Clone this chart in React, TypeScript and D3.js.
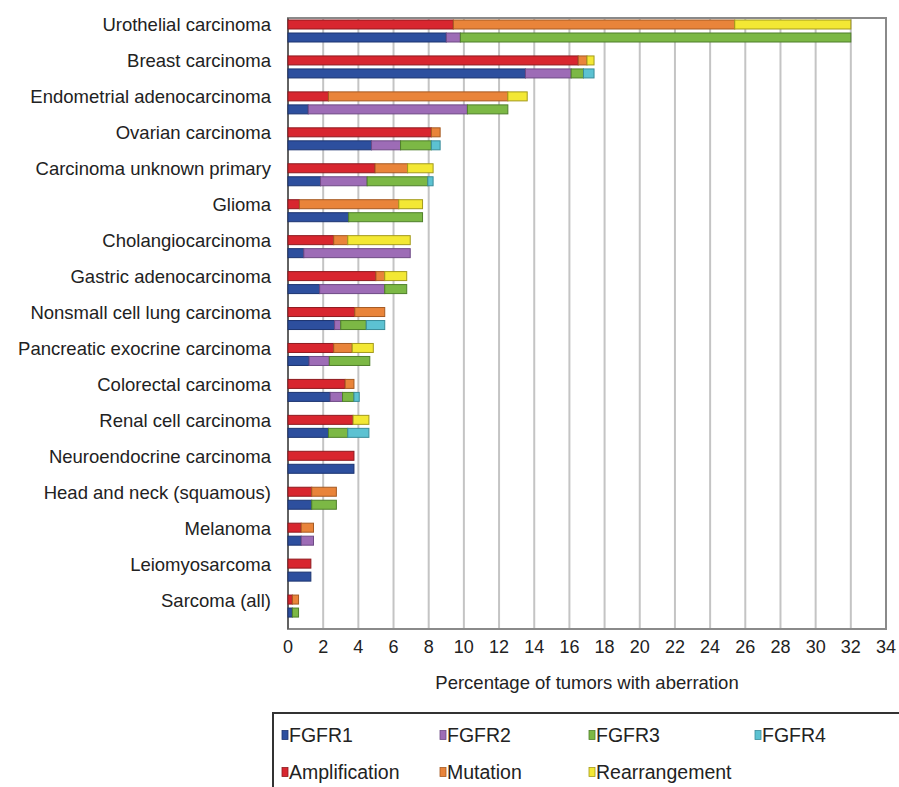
import { useEffect, useRef } from "react";
import * as d3 from "d3";

const categories = [
  "Urothelial carcinoma",
  "Breast carcinoma",
  "Endometrial adenocarcinoma",
  "Ovarian carcinoma",
  "Carcinoma unknown primary",
  "Glioma",
  "Cholangiocarcinoma",
  "Gastric adenocarcinoma",
  "Nonsmall cell lung carcinoma",
  "Pancreatic exocrine carcinoma",
  "Colorectal carcinoma",
  "Renal cell carcinoma",
  "Neuroendocrine carcinoma",
  "Head and neck (squamous)",
  "Melanoma",
  "Leiomyosarcoma",
  "Sarcoma (all)",
];

// aberration type (top bar of each pair)
const amplification = [9.4, 16.5, 2.3, 8.15, 4.95, 0.65, 2.6, 5.0, 3.8, 2.6, 3.25, 3.7, 3.75, 1.35, 0.75, 1.3, 0.25];
const mutation = [16.0, 0.5, 10.2, 0.5, 1.85, 5.65, 0.8, 0.5, 1.7, 1.05, 0.5, 0, 0, 1.4, 0.7, 0, 0.35];
const rearrangement = [6.6, 0.4, 1.1, 0, 1.45, 1.35, 3.55, 1.25, 0, 1.2, 0, 0.9, 0, 0, 0, 0, 0];

// gene (bottom bar of each pair)
const fgfr1 = [9.0, 13.5, 1.15, 4.75, 1.85, 3.45, 0.9, 1.8, 2.65, 1.2, 2.4, 2.3, 3.75, 1.35, 0.75, 1.3, 0.25];
const fgfr2 = [0.8, 2.6, 9.05, 1.65, 2.65, 0, 6.05, 3.7, 0.35, 1.15, 0.7, 0, 0, 0, 0.7, 0, 0];
const fgfr3 = [22.2, 0.7, 2.3, 1.75, 3.45, 4.2, 0, 1.25, 1.45, 2.3, 0.65, 1.1, 0, 1.4, 0, 0, 0.35];
const fgfr4 = [0, 0.6, 0, 0.5, 0.3, 0, 0, 0, 1.05, 0, 0.3, 1.2, 0, 0, 0, 0, 0];

const xTicks = d3.range(0, 35, 2);

const typeKeys = ["Amplification", "Mutation", "Rearrangement"];
const geneKeys = ["FGFR1", "FGFR2", "FGFR3", "FGFR4"];

const colors: Record<string, [string, string]> = {
  FGFR1: ["#2d4f9e", "#1c3470"],
  FGFR2: ["#9d6cb6", "#6e4a85"],
  FGFR3: ["#7cb845", "#4f7f2a"],
  FGFR4: ["#5cc2d2", "#3a8c99"],
  Amplification: ["#d8262f", "#8e1a1f"],
  Mutation: ["#e9843a", "#a55a22"],
  Rearrangement: ["#f3e834", "#a39a1c"],
};

const font = "'Liberation Sans', Arial, Helvetica, sans-serif";

function App() {
  const svgRef = useRef<SVGSVGElement | null>(null);

  useEffect(() => {
    document.body.style.margin = "0";
    const width = 899;
    const height = 787;
    const left = 288, right = 886, top = 18, bottom = 629;

    const svg = d3.select(svgRef.current).attr("width", width).attr("height", height);
    svg.selectAll("*").remove();
    svg.append("rect").attr("width", width).attr("height", height).attr("fill", "#fff");

    const x = d3.scaleLinear().domain([0, 34]).range([left, right]);
    const y = d3.scaleBand().domain(categories).range([top, bottom]);

    const typeRows = categories.map((c, i) => ({
      cat: c,
      Amplification: amplification[i],
      Mutation: mutation[i],
      Rearrangement: rearrangement[i],
    }));
    const geneRows = categories.map((c, i) => ({
      cat: c,
      FGFR1: fgfr1[i],
      FGFR2: fgfr2[i],
      FGFR3: fgfr3[i],
      FGFR4: fgfr4[i],
    }));

    // grid lines
    svg.append("g")
      .selectAll("line")
      .data(xTicks.slice(1, -1))
      .enter()
      .append("line")
      .attr("x1", (d) => x(d))
      .attr("x2", (d) => x(d))
      .attr("y1", top)
      .attr("y2", bottom)
      .attr("stroke", "#c4c4c4")
      .attr("stroke-width", 2);

    // frame
    svg.append("rect")
      .attr("x", left)
      .attr("y", top)
      .attr("width", right - left)
      .attr("height", bottom - top)
      .attr("fill", "none")
      .attr("stroke", "#8a8a8a")
      .attr("stroke-width", 2);
    svg.append("line")
      .attr("x1", left).attr("x2", left)
      .attr("y1", top).attr("y2", bottom)
      .attr("stroke", "#555").attr("stroke-width", 1.5);

    const barH = 9;
    const centerOf = (c: string) => (y(c) ?? 0) + 13;

    const drawStack = (rows: any[], keys: string[], offset: number) => {
      const series = d3.stack<any>().keys(keys)(rows);
      const g = svg.append("g");
      series.forEach((s) => {
        g.append("g")
          .selectAll("rect")
          .data(s.filter((d) => d[1] - d[0] > 0))
          .enter()
          .append("rect")
          .attr("x", (d) => x(d[0]))
          .attr("y", (d) => centerOf(d.data.cat) + offset)
          .attr("width", (d) => x(d[1]) - x(d[0]))
          .attr("height", barH)
          .attr("fill", colors[s.key][0])
          .attr("stroke", colors[s.key][1])
          .attr("stroke-width", 1);
      });
    };
    drawStack(typeRows, typeKeys, -11);
    drawStack(geneRows, geneKeys, 2);

    // category labels
    svg.append("g")
      .selectAll("text")
      .data(categories)
      .enter()
      .append("text")
      .attr("x", 271)
      .attr("y", (d) => centerOf(d) - 6)
      .attr("dy", "0.35em")
      .attr("text-anchor", "end")
      .style("font-family", font)
      .style("font-size", "18.5px")
      .attr("fill", "#222")
      .text((d) => d);

    // tick labels
    svg.append("g")
      .selectAll("text")
      .data(xTicks)
      .enter()
      .append("text")
      .attr("x", (d) => x(d))
      .attr("y", 647)
      .attr("dy", "0.35em")
      .attr("text-anchor", "middle")
      .style("font-family", font)
      .style("font-size", "18px")
      .attr("fill", "#222")
      .text((d) => d);

    svg.append("text")
      .attr("x", (left + right) / 2)
      .attr("y", 683)
      .attr("dy", "0.35em")
      .attr("text-anchor", "middle")
      .style("font-family", font)
      .style("font-size", "18.5px")
      .attr("fill", "#222")
      .text("Percentage of tumors with aberration");

    // legend
    const legend = svg.append("g");
    legend.append("rect")
      .attr("x", 273)
      .attr("y", 713)
      .attr("width", 700)
      .attr("height", 120)
      .attr("fill", "none")
      .attr("stroke", "#333")
      .attr("stroke-width", 2);

    const legendItems = [
      { key: "FGFR1", x: 282, y: 735 },
      { key: "FGFR2", x: 440, y: 735 },
      { key: "FGFR3", x: 589, y: 735 },
      { key: "FGFR4", x: 755, y: 735 },
      { key: "Amplification", x: 282, y: 772 },
      { key: "Mutation", x: 440, y: 772 },
      { key: "Rearrangement", x: 589, y: 772 },
    ];
    const li = legend.selectAll(".legend-item")
      .data(legendItems)
      .enter()
      .append("g")
      .attr("class", "legend-item")
      .attr("transform", (d) => `translate(${d.x},${d.y})`);
    li.append("rect")
      .attr("x", 0)
      .attr("y", -4.5)
      .attr("width", 6)
      .attr("height", 9)
      .attr("fill", (d) => colors[d.key][0])
      .attr("stroke", (d) => colors[d.key][1])
      .attr("stroke-width", 0.8);
    li.append("text")
      .attr("x", 7)
      .attr("y", 0)
      .attr("dy", "0.35em")
      .style("font-family", font)
      .style("font-size", "19.5px")
      .attr("fill", "#222")
      .text((d) => d.key);
  }, []);

  return <svg ref={svgRef} width={899} height={787} style={{ display: "block" }}></svg>;
}

export default App;
